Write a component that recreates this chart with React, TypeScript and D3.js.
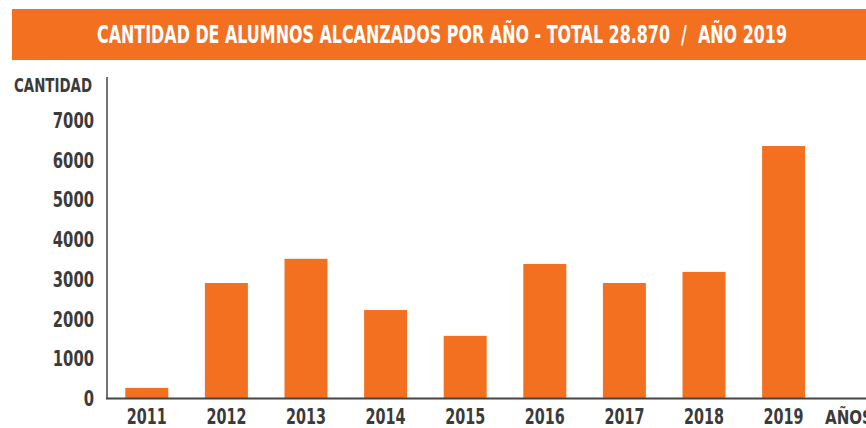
import React from "react";
import * as d3 from "d3";

const years = ["2011", "2012", "2013", "2014", "2015", "2016", "2017", "2018", "2019"];
const alumnos = [280, 2920, 3530, 2240, 1590, 3400, 2920, 3200, 6370];
const yTicks = [0, 1000, 2000, 3000, 4000, 5000, 6000, 7000];
const titleText = "CANTIDAD DE ALUMNOS ALCANZADOS POR AÑO - TOTAL 28.870  /  AÑO 2019";
const yAxisTitle = "CANTIDAD";
const xAxisTitle = "AÑOS";

const W = 866;
const H = 428;
const ORANGE = "#F37021";
const TEXT = "#3b3b3b";
const FONT = "'DejaVu Sans Condensed', 'DejaVu Sans', sans-serif";

export default function App() {
  const x0 = 107;
  const step = 79.6;
  const x = d3
    .scaleBand<string>()
    .domain(years)
    .range([x0, x0 + step * years.length])
    .paddingInner(0.46)
    .paddingOuter(0.23);
  const y = d3.scaleLinear().domain([0, 7000]).range([399, 121]);

  const common = {
    fontWeight: "bold" as const,
    fontStretch: "condensed",
    lengthAdjust: "spacingAndGlyphs",
    dominantBaseline: "central" as const,
  };

  return (
    <svg
      width={W}
      height={H}
      style={{ position: "absolute", left: 0, top: 0, display: "block", background: "#fff" }}
      fontFamily={FONT}
    >
      <rect x={12} y={9} width={W - 12} height={51} fill={ORANGE} />
      <text
        {...common}
        x={97}
        y={34.5}
        fill="#fff"
        fontSize={24}
        textLength={690}
        style={{ whiteSpace: "pre" }}
      >
        {titleText}
      </text>

      {alumnos.map((v, i) => (
        <rect
          key={years[i]}
          x={x(years[i])}
          y={y(v)}
          width={x.bandwidth()}
          height={y(0) - y(v)}
          fill={ORANGE}
        />
      ))}

      <line x1={107} x2={107} y1={77} y2={399} stroke="#444" strokeWidth={1.5} />
      <line x1={106} x2={W} y1={398.5} y2={398.5} stroke="#444" strokeWidth={2} />

      {yTicks.map((t) => {
        const s = String(t);
        const len = s.length * 10.3;
        return (
          <text
            key={t}
            {...common}
            x={94 - len}
            y={y(t)}
            fill={TEXT}
            fontSize={21}
            textLength={len}
          >
            {s}
          </text>
        );
      })}
      <text {...common} x={14} y={85} fill={TEXT} fontSize={19} textLength={78}>
        {yAxisTitle}
      </text>

      {years.map((yr) => (
        <text
          key={yr}
          {...common}
          x={(x(yr) as number) + x.bandwidth() / 2 - 20}
          y={417}
          fill={TEXT}
          fontSize={21}
          textLength={40}
        >
          {yr}
        </text>
      ))}
      <text {...common} x={825} y={417} fill={TEXT} fontSize={20} textLength={48}>
        {xAxisTitle}
      </text>
    </svg>
  );
}
